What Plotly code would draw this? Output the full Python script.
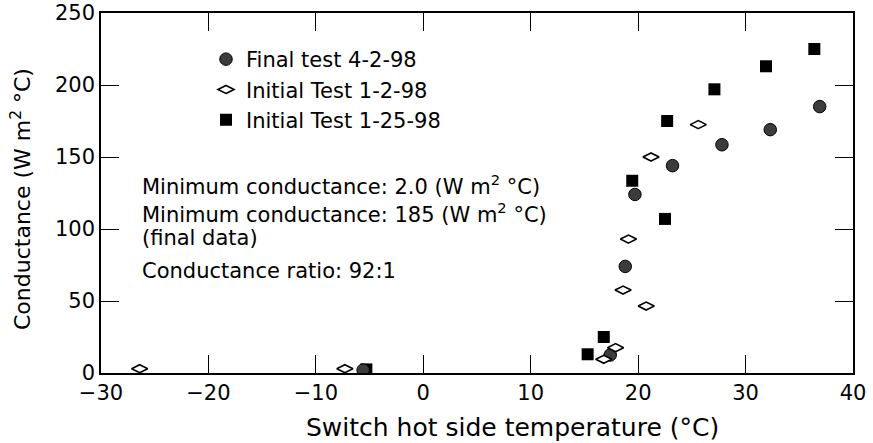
import plotly.graph_objects as go

# Final test 4-2-98 (filled gray circles)
final_x = [-5.6, 17.4, 18.8, 19.7, 23.2, 27.8, 32.3, 36.9]
final_y = [2.0, 12.5, 74, 124, 144, 158.5, 169, 185]

# Initial Test 1-2-98 (open diamonds)
init_a_x = [-26.4, -7.3, 16.8, 17.9, 18.6, 20.75, 19.1, 21.2, 25.6]
init_a_y = [3, 3, 9.5, 17.6, 57.6, 46.5, 93, 150, 172.5]

# Initial Test 1-25-98 (filled squares)
init_b_x = [-5.3, 15.3, 16.8, 19.45, 22.5, 22.7, 27.1, 31.9, 36.4]
init_b_y = [2.5, 13, 25, 133.5, 107, 175, 197, 213, 225]

x_ticks = [-30, -20, -10, 0, 10, 20, 30, 40]
y_ticks = [0, 50, 100, 150, 200, 250]

x_title = "Switch hot side temperature (°C)"
y_title = "Conductance (W m<sup>2</sup> °C)"

notes = [
    "Minimum conductance: 2.0 (W m<sup>2</sup> °C)",
    "Minimum conductance: 185 (W m<sup>2</sup> °C)",
    "(final data)",
    "Conductance ratio: 92:1",
]
note_py = [185, 213, 238, 271]  # vertical page-pixel centres of the note lines

FONT = "DejaVu Sans"
W, H = 873, 443
PX0, PX1 = 101, 853          # plot area in page pixels (x)
PY0, PY1 = 13, 373           # plot area in page pixels (y)
L, T = PX0, PY0
R, B = W - PX1, H - PY1
PW, PH = PX1 - PX0, PY1 - PY0


def px(xp):
    return (xp - PX0) / PW


def py(yp):
    return (PY1 - yp) / PH


fig = go.Figure()
fig.add_trace(go.Scatter(
    x=init_b_x, y=init_b_y, mode="markers", name="Initial Test 1-25-98",
    legendrank=3,
    marker=dict(symbol="square", size=12, color="black",
                line=dict(color="black", width=0)),
))
fig.add_trace(go.Scatter(
    x=final_x, y=final_y, mode="markers", name="Final test 4-2-98",
    legendrank=1,
    marker=dict(symbol="circle", size=12.5, color="#3c3c3c",
                line=dict(color="black", width=1)),
))
fig.add_trace(go.Scatter(
    x=init_a_x, y=init_a_y, mode="markers", name="Initial Test 1-2-98",
    legendrank=2,
    marker=dict(symbol="diamond-wide", size=11.5, color="white",
                line=dict(color="black", width=1.6)),
))

for txt, yp in zip(notes, note_py):
    fig.add_annotation(
        text=txt, xref="paper", yref="paper",
        x=px(140), y=py(yp),
        xanchor="left", yanchor="middle", align="left",
        showarrow=False, font=dict(family=FONT, size=21, color="black"),
    )

# axis titles placed as in the reference (slightly off-centre)
fig.add_annotation(
    text=x_title, xref="paper", yref="paper", x=px(512), y=py(428),
    xanchor="center", yanchor="middle", showarrow=False,
    font=dict(family=FONT, size=25, color="black"),
)
fig.add_annotation(
    text=y_title, xref="paper", yref="paper", x=px(21), y=py(199),
    xanchor="center", yanchor="middle", showarrow=False, textangle=-90,
    font=dict(family=FONT, size=22, color="black"),
)

axis_common = dict(
    showline=True, linecolor="black", linewidth=1.5, mirror="ticks",
    ticks="inside", ticklen=18, tickwidth=1.2, tickcolor="black",
    showgrid=False, zeroline=False, automargin=False,
    ticklabeloverflow="allow",
    tickfont=dict(family=FONT, size=21, color="black"),
)

fig.update_xaxes(range=[-30, 40], tickvals=x_ticks, **axis_common)
fig.update_yaxes(range=[0, 250], tickvals=y_ticks, **axis_common)

fig.update_layout(
    width=W, height=H,
    margin=dict(l=L, r=R, t=T, b=B, autoexpand=False),
    paper_bgcolor="white", plot_bgcolor="white",
    font=dict(family=FONT, size=21, color="black"),
    showlegend=True,
    legend=dict(x=px(206), y=py(PY0 + 26),
                xanchor="left", yanchor="top",
                bgcolor="rgba(0,0,0,0)", borderwidth=0,
                itemwidth=30, tracegroupgap=0,
                font=dict(family=FONT, size=21, color="black")),
)

fig.write_html(
    "out.html",
    config={"displayModeBar": False},
    post_script="document.body.style.margin='0';",
)
